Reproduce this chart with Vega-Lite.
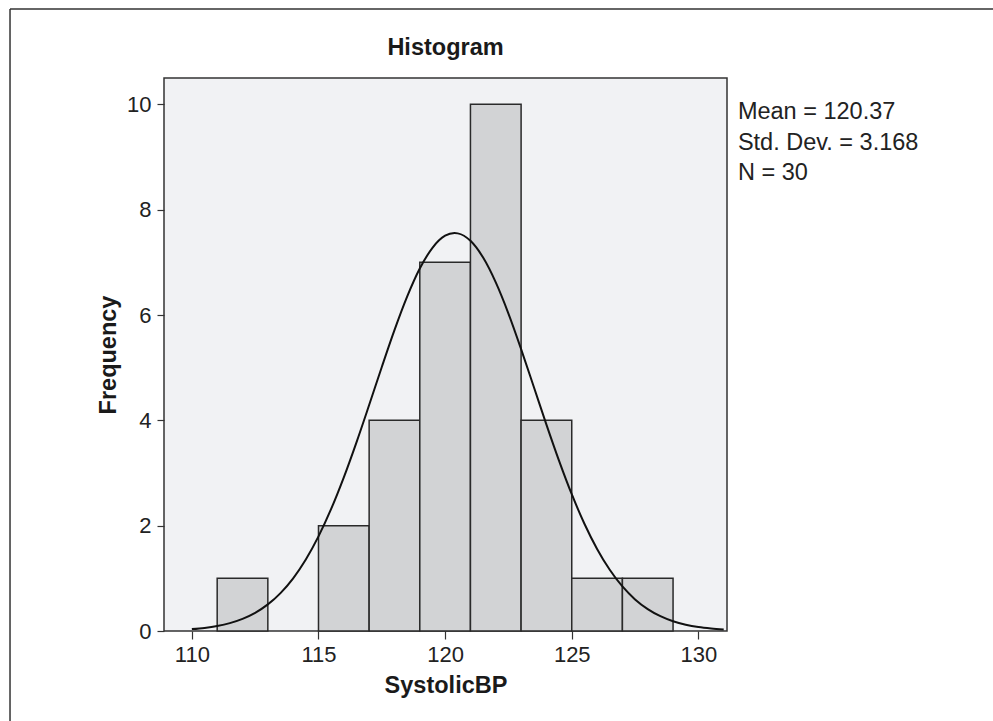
{
  "$schema": "https://vega.github.io/schema/vega-lite/v6.json",
  "width": 563,
  "height": 553,
  "autosize": {"type": "none"},
  "padding": {"left": 164, "top": 78, "right": 266, "bottom": 90},
  "background": "white",
  "config": {
    "view": {"stroke": "#333333", "strokeWidth": 1.5, "fill": "#f1f2f4"},
    "axis": {
      "labelFont": "Liberation Sans", "labelFontSize": 22, "labelColor": "#222222",
      "titleFont": "Liberation Sans", "titleFontSize": 23.5, "titleFontWeight": "bold", "titleColor": "#1a1a1a",
      "grid": false, "domain": false, "tickColor": "#333333", "tickWidth": 1.2, "tickSize": 8
    }
  },
  "datasets": {
    "bins": [
      {"start": 111, "end": 113, "count": 1},
      {"start": 115, "end": 117, "count": 2},
      {"start": 117, "end": 119, "count": 4},
      {"start": 119, "end": 121, "count": 7},
      {"start": 121, "end": 123, "count": 10},
      {"start": 123, "end": 125, "count": 4},
      {"start": 125, "end": 127, "count": 1},
      {"start": 127, "end": 129, "count": 1}
    ],
    "curve": [
      {"x": 110, "y": 0.036}, {"x": 110.5, "y": 0.059}, {"x": 111, "y": 0.095}, {"x": 111.5, "y": 0.150},
      {"x": 112, "y": 0.231}, {"x": 112.5, "y": 0.345}, {"x": 113, "y": 0.505}, {"x": 113.5, "y": 0.720},
      {"x": 114, "y": 1.001}, {"x": 114.5, "y": 1.358}, {"x": 115, "y": 1.797}, {"x": 115.5, "y": 2.318},
      {"x": 116, "y": 2.918}, {"x": 116.5, "y": 3.583}, {"x": 117, "y": 4.291}, {"x": 117.5, "y": 5.013},
      {"x": 118, "y": 5.712}, {"x": 118.5, "y": 6.348}, {"x": 119, "y": 6.882}, {"x": 119.5, "y": 7.276},
      {"x": 120, "y": 7.505}, {"x": 120.37, "y": 7.556}, {"x": 120.5, "y": 7.550}, {"x": 121, "y": 7.408},
      {"x": 121.5, "y": 7.090}, {"x": 122, "y": 6.619}, {"x": 122.5, "y": 6.028}, {"x": 123, "y": 5.353},
      {"x": 123.5, "y": 4.638}, {"x": 124, "y": 3.919}, {"x": 124.5, "y": 3.231}, {"x": 125, "y": 2.597},
      {"x": 125.5, "y": 2.037}, {"x": 126, "y": 1.558}, {"x": 126.5, "y": 1.162}, {"x": 127, "y": 0.846},
      {"x": 127.5, "y": 0.600}, {"x": 128, "y": 0.416}, {"x": 128.5, "y": 0.281}, {"x": 129, "y": 0.185},
      {"x": 129.5, "y": 0.119}, {"x": 130, "y": 0.074}, {"x": 130.5, "y": 0.046}, {"x": 131, "y": 0.027}
    ],
    "stats": [
      {"label": "Mean = 120.37", "sx": 131.56, "sy": 9.85},
      {"label": "Std. Dev. = 3.168", "sx": 131.56, "sy": 9.275},
      {"label": "N = 30", "sx": 131.56, "sy": 8.70}
    ],
    "heading": [
      {"label": "Histogram", "hx": 120.015, "hy": 11.07}
    ],
    "frame": [
      {"fx": 102.82, "fy": 11.81, "fx2": 102.82, "fy2": -1.71},
      {"fx": 102.82, "fy": 11.81, "fx2": 141.7, "fy2": 11.81}
    ]
  },
  "layer": [
    {
      "data": {"name": "bins"},
      "mark": {"type": "rect", "fill": "#d2d3d5", "stroke": "#2a2a2a", "strokeWidth": 1.5},
      "encoding": {
        "x": {"field": "start", "type": "quantitative",
              "scale": {"domain": [108.9, 131.13], "nice": false, "zero": false},
              "axis": {"values": [110, 115, 120, 125, 130], "title": "SystolicBP", "labelPadding": 5, "titlePadding": 8}},
        "x2": {"field": "end"},
        "y": {"field": "count", "type": "quantitative",
              "scale": {"domain": [0, 10.5], "nice": false},
              "axis": {"values": [0, 2, 4, 6, 8, 10], "title": "Frequency", "tickSize": 7, "labelPadding": 6, "titlePadding": 6}},
        "y2": {"datum": 0}
      }
    },
    {
      "data": {"name": "curve"},
      "mark": {"type": "line", "color": "#111111", "strokeWidth": 2, "interpolate": "monotone"},
      "encoding": {
        "x": {"field": "x", "type": "quantitative"},
        "y": {"field": "y", "type": "quantitative"}
      }
    },
    {
      "data": {"name": "stats"},
      "mark": {"type": "text", "align": "left", "baseline": "middle", "font": "Liberation Sans", "fontSize": 23.5, "color": "#222222", "clip": false},
      "encoding": {
        "x": {"field": "sx", "type": "quantitative"},
        "y": {"field": "sy", "type": "quantitative"},
        "text": {"field": "label"}
      }
    },
    {
      "data": {"name": "heading"},
      "mark": {"type": "text", "align": "center", "baseline": "middle", "font": "Liberation Sans", "fontSize": 23.5, "fontWeight": "bold", "color": "#1a1a1a", "clip": false},
      "encoding": {
        "x": {"field": "hx", "type": "quantitative"},
        "y": {"field": "hy", "type": "quantitative"},
        "text": {"field": "label"}
      }
    },
    {
      "data": {"name": "frame"},
      "mark": {"type": "rule", "color": "#333333", "strokeWidth": 1.5, "clip": false},
      "encoding": {
        "x": {"field": "fx", "type": "quantitative"},
        "y": {"field": "fy", "type": "quantitative"},
        "x2": {"field": "fx2"},
        "y2": {"field": "fy2"}
      }
    }
  ]
}
